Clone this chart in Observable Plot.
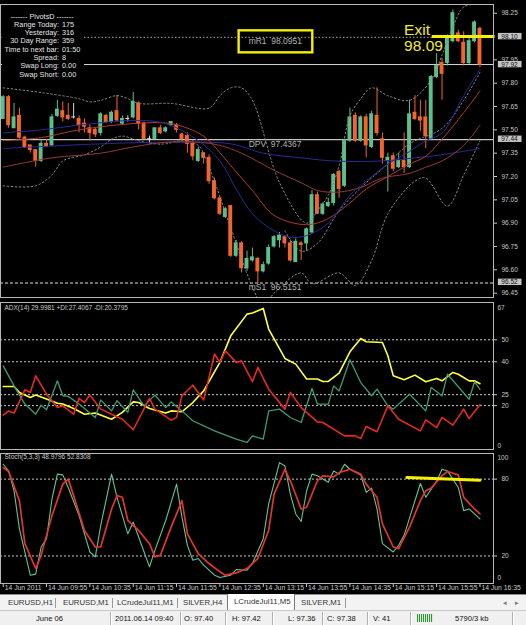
<!DOCTYPE html>
<html><head><meta charset="utf-8">
<script src="https://cdn.jsdelivr.net/npm/d3@7"></script>
<script src="https://cdn.jsdelivr.net/npm/@observablehq/plot@0.6"></script>
<style>
html,body{margin:0;padding:0;background:#fff;}
#wrap{position:relative;width:526px;height:625px;background:#000;overflow:hidden;font-family:"Liberation Sans",Arial,sans-serif;}
#wrap svg{position:absolute;left:0;overflow:visible;}
#info{position:absolute;left:2px;top:9px;width:82px;height:71px;background:#000;color:#e4e4e4;font-size:7.3px;}
.irow{position:absolute;left:0;width:82px;height:9px;line-height:9px;white-space:nowrap;}
.ilab{position:absolute;right:25px;text-align:right;}
.ival{position:absolute;left:60px;}
#tabs{position:absolute;left:0;top:594px;width:526px;height:15px;background:#f3f3f3;border-top:1px solid #8c8c8c;font-size:7.8px;color:#333;}
.tab{position:absolute;top:0;height:15px;line-height:15px;white-space:nowrap;}
.tsep{position:absolute;top:3px;width:1px;height:10px;background:#9a9a9a;}
#status{position:absolute;left:0;top:610px;width:526px;height:15px;background:#f0f0f0;border-top:1px solid #c8c8c8;font-size:7.6px;color:#111;}
.st{position:absolute;top:0;height:15px;line-height:15px;white-space:nowrap;}
.ssep{position:absolute;top:1px;width:1px;height:13px;background:#b0b0b0;border-right:1px solid #fff;}
</style></head>
<body><div id="wrap"></div>
<script>
// ---------------- DATA ----------------
const opens  = [97.57,97.71,97.51,97.59,97.45,97.40,97.37,97.30,97.41,97.40,97.59,97.62,97.59,97.58,97.57,97.54,97.51,97.50,97.48,97.59,97.55,97.62,97.54,97.57,97.58,97.67,97.54,97.44,97.44,97.51,97.49,97.53,97.53,97.47,97.46,97.41,97.30,97.35,97.32,97.17,97.06,96.94,97.01,96.69,96.77,96.61,96.66,96.67,96.59,96.64,96.75,96.79,96.81,96.77,96.65,96.77,96.77,96.84,97.08,96.96,97.01,97.03,97.23,97.14,97.43,97.59,97.43,97.58,97.39,97.59,97.44,97.30,97.33,97.26,97.30,97.26,97.61,97.58,97.58,97.44,97.84,97.93,97.93,98.07,98.12,98.06,97.93,98.07,98.15];
const highs  = [97.72,97.72,97.67,97.64,97.46,97.40,97.37,97.43,97.44,97.60,97.69,97.68,97.67,97.67,97.59,97.57,97.53,97.51,97.61,97.60,97.62,97.72,97.59,97.59,97.74,97.68,97.55,97.46,97.51,97.53,97.52,97.55,97.54,97.48,97.48,97.43,97.39,97.35,97.34,97.19,97.06,97.00,97.01,96.79,96.78,96.72,96.74,96.68,96.65,96.76,96.82,96.84,96.82,96.79,96.80,96.78,96.87,97.11,97.10,97.03,97.06,97.22,97.24,97.44,97.64,97.61,97.59,97.60,97.62,97.77,97.48,97.35,97.35,97.35,97.48,97.69,97.72,97.69,97.69,97.85,97.99,97.96,98.11,98.27,98.14,98.13,98.09,98.20,98.16];
const lows   = [97.57,97.51,97.51,97.44,97.38,97.35,97.26,97.29,97.39,97.39,97.58,97.55,97.56,97.57,97.48,97.48,97.43,97.45,97.46,97.54,97.54,97.55,97.53,97.55,97.57,97.50,97.44,97.41,97.44,97.47,97.48,97.52,97.48,97.43,97.35,97.30,97.29,97.28,97.15,97.05,96.95,96.93,96.68,96.68,96.58,96.59,96.65,96.51,96.58,96.63,96.74,96.74,96.74,96.65,96.65,96.66,96.72,96.83,96.96,96.95,97.00,97.01,97.06,97.13,97.42,97.42,97.42,97.32,97.38,97.46,97.28,97.10,97.23,97.25,97.22,97.25,97.56,97.49,97.38,97.44,97.83,97.69,97.91,98.06,98.06,97.91,97.92,98.06,97.90];
const closes = [97.71,97.53,97.58,97.45,97.39,97.37,97.30,97.41,97.39,97.58,97.63,97.58,97.57,97.58,97.53,97.52,97.48,97.47,97.60,97.55,97.61,97.56,97.57,97.57,97.68,97.54,97.44,97.44,97.51,97.48,97.51,97.55,97.50,97.44,97.41,97.33,97.37,97.32,97.17,97.06,96.96,96.99,96.69,96.77,96.61,96.67,96.68,96.59,96.63,96.74,96.81,96.82,96.77,96.66,96.78,96.76,96.86,97.08,96.96,97.02,97.03,97.21,97.12,97.43,97.58,97.43,97.58,97.40,97.60,97.48,97.32,97.32,97.25,97.30,97.26,97.60,97.57,97.56,97.46,97.84,97.91,97.86,98.09,98.25,98.07,97.93,98.07,98.19,97.92];

const fastNavyBars = [0,7,14,24,30,36,40,43,46,50,53,56,60,64,67,71,75,78,81,85,88];
const fastNavy     = [97.48,97.50,97.53,97.56,97.54,97.43,97.30,97.12,96.96,96.85,96.81,96.82,96.90,97.08,97.17,97.28,97.36,97.43,97.48,97.72,97.89];
const redMaBars    = [0,7,14,24,31,36,38,42,46,50,56,60,64,67,71,75,78,81,85,88];
const redMa        = [97.43,97.45,97.50,97.54,97.54,97.48,97.43,97.27,97.11,96.95,96.89,96.93,97.03,97.12,97.20,97.28,97.33,97.44,97.61,97.75];
const slowRedBars  = [0,9,18,24,30,36,40,44,50,55,58,62,66,70,75,78,81,85,88];
const slowRed      = [97.26,97.32,97.35,97.39,97.42,97.42,97.40,97.35,97.24,97.16,97.11,97.10,97.13,97.19,97.22,97.26,97.30,97.40,97.53];
const slowNavyBars = [0,18,30,42,48,55,61,70,76,81,88];
const slowNavy     = [97.38,97.41,97.42,97.41,97.35,97.32,97.30,97.30,97.32,97.34,97.38];

const bbUpperBars = [0,7,14,16,18,21,23,25,31,38,40,42,44,46,51,56,58,60,62,64,66,68,71,75,79,81,83,85,88];
const bbUpper     = [97.77,97.74,97.70,97.68,97.69,97.72,97.70,97.67,97.67,97.64,97.72,97.77,97.77,97.69,97.16,96.90,96.98,97.08,97.27,97.59,97.70,97.77,97.72,97.69,97.82,97.98,98.16,98.29,98.31];
const bbMidBars   = [52,55,58,62,67,70,75,81,85,88];
const bbMid       = [96.85,96.72,96.77,96.98,97.16,97.25,97.41,97.51,97.69,97.87];
const bbLowerBars = [0,6,9,11,15,18,20,22,25,28,30,33,36,38,42,46,48,50,55,57,62,65,68,71,76,78,82,85,88];
const bbLower     = [97.14,97.14,97.21,97.30,97.34,97.39,97.44,97.46,97.43,97.41,97.41,97.43,97.40,97.26,96.87,96.49,96.37,96.45,96.58,96.51,96.58,96.50,96.66,96.96,97.17,97.19,97.01,97.21,97.43];

const bidPrice = 97.92;
const dpvLevel = 97.4367, mR1Level = 98.0951, mS1Level = 96.5151;
const exitPrice = 98.10, exitLabel = "98.09", exitFromBar = 79.2, labelBar = 45.3, exitTextBar = 74;
const priceTicks = [98.25,97.95,97.80,97.65,97.50,97.35,97.20,97.05,96.90,96.75,96.60,96.45];
const priceBoxes = [98.10,97.92,97.44,96.52];

const adxBars = [0,2,3,5,6,8,10,11,13,15,17,20,22,24,25,27,30,31,33,35,37,40,42,45,46,48,49,52,54,56,58,59,60,62,64,66,67,70,71,72,74,76,78,80,81,83,84,86,87,88];
const adx     = [28.7,28.7,26,23.7,24.8,23,21.1,20.7,18.7,16.1,16.6,13.8,16.9,21.7,21.4,18.7,16.6,17.6,17.2,21.4,26.7,39.7,51.8,61.7,62.2,64.3,54.9,41.5,38.9,32.1,32.1,31,31,34.8,44.5,50.6,49.1,48.8,42.7,33.6,31.8,33.9,30.9,32.4,31.3,35.1,34.3,31.3,31.3,30.0];
const pdiBars = [0,2,4,6,7,8,10,11,12,14,17,18,20,21,23,24,26,28,30,31,33,35,39,43,45,46,48,49,51,53,55,57,58,60,61,62,64,66,68,69,71,72,75,78,79,81,82,86,87,88];
const pdi     = [38.1,29,20.7,16.1,20.2,18.1,31.3,24.5,24.2,20.7,14.6,22.6,17.6,22.2,16.9,27.2,19.9,24.8,19.1,21.7,17.6,13.1,8.5,4.7,3.2,6.2,4.7,17.6,18.4,14.6,12.3,27.8,20.7,20.7,29,26.7,40.9,30.5,24.5,27.5,19.9,18.4,25.2,17.6,28.3,24.5,34.3,22.9,30.9,27.4];
const mdiBars = [0,1,2,4,5,6,8,10,11,13,14,15,16,18,20,22,24,27,28,31,32,33,35,36,37,39,40,41,43,44,46,47,49,52,53,55,58,59,63,65,66,67,69,71,73,77,78,80,81,83,85,86,88];
const mdi     = [15.7,17.6,16.6,27.2,26,33.6,25.2,19.1,19.9,16.1,23.3,21.4,24.8,18.4,16.1,13.8,9,23.3,18.4,13.4,14.6,24.5,29.3,26,22.6,43.5,39.7,45,39.7,40.4,30.9,37.4,27.5,18.4,26,19.1,12.6,12.3,6.2,6.2,5,10.5,8.1,19.9,13.8,8.5,13.5,10,14.6,11.1,18.4,14.1,20.4];
const adxLevels = [50,40,25,20];
const adxMax = 67, adxMin = 0;
const adxTitle = "ADX(14) 29.9981 +DI:27.4067 -DI:20.3795";

const stochKBars = [0,1,2,3,5,6,7,8,9,10,11,12,14,16,17,18,20,21,23,24,25,27,28,30,32,33,34,35,36,37,39,40,42,43,45,46,48,49,51,52,53,54,55,56,57,58,60,61,62,63,64,66,67,68,69,70,72,73,74,77,78,80,81,82,84,85,86,88];
const stochK     = [91.6,86.4,70.9,41,5,5.8,27,33.5,64.5,83.9,83.3,73.5,51.5,23.1,19.3,43.8,83.9,65.8,37.3,46.4,34.8,11.5,24.4,47.7,76.1,50.3,28.3,16.7,18,12.8,5,3.2,5,9.4,8.9,14.1,33.5,60.6,92.9,90.3,68.3,52.8,46.9,70.9,83.9,82.6,77.5,86.4,83.9,91.6,87.7,83.3,69.6,73,56.7,29.6,23.1,28.3,36.1,76.6,65.8,78.4,87.7,86.4,73.5,55.4,56.7,49.0];
const stochDBars = [0,1,3,4,6,7,9,11,12,13,15,17,18,20,21,22,23,25,27,28,29,31,33,34,36,38,40,41,43,45,47,49,50,52,53,55,56,58,59,61,62,64,66,67,69,70,72,73,75,77,78,79,81,82,84,85,87,88];
const stochD     = [89,85.9,63,29.6,10.2,20.5,51.5,76.1,80,67.1,39.9,27,27,56.7,67.1,65.8,47.7,39.9,29.6,19.3,20.5,42.5,63.2,37.3,21.8,14.1,7.6,5,6.8,10.2,18,39.9,68.3,87.7,78.7,56.7,58,78.7,82.6,81.8,85.1,87.7,83.9,76.1,65.8,45.1,27,25.7,42.5,63.2,70.9,73,82.6,85.9,83.3,65.8,56.7,52.8];
const stochLevels = [80,20];
const stochMax = 100, stochMin = 0;
const stochTitle = "Stoch(5,3,3) 48.9796 52.8308";
const stochTrendBars = [74.5,88], stochTrend = [81.3,79.2];

const tickBars = [0,8,16,24,32,40,48,56,64,72,80,88];
const tickLabels = ["14 Jun 2011","14 Jun 09:55","14 Jun 10:35","14 Jun 11:15","14 Jun 11:55","14 Jun 12:35","14 Jun 13:15","14 Jun 13:55","14 Jun 14:35","14 Jun 15:15","14 Jun 15:55","14 Jun 16:35"];

const infoTitle = "-------  PivotsD  -------";
const infoLabels = ["Range  Today:","Yesterday:","30 Day Range:","Time to next bar:","Spread:","Swap  Long:","Swap  Short:"];
const infoValues = ["175","316","359","01:50","8","0.00","0.00"];
const tabNames = ["EURUSD,H1","EURUSD,M1","LCrudeJul11,M1","SILVER,H4","LCrudeJul11,M5","SILVER,M1"];
const activeTab = "LCrudeJul11,M5";
const statusTexts = ["June 06","2011.06.14 09:40","O: 97.40","H: 97.42","L: 97.36","C: 97.38","V: 41","5790/3 kb"];

// ---------------- DRAW ----------------
const GREEN = "#5cc08c", ORANGE = "#f5652a", DOJI = "#d8d8d8";
const NAVY = "#2a2a96", RED1 = "#b03a30", RED2 = "#953a3a";
const pts = (bs, vs) => bs.map((b, k) => ({i: b, v: vs[k]}));
const bars = opens.map((o, i) => ({i, o, h: highs[i], l: lows[i], c: closes[i]}));
const col = d => d.c > d.o ? GREEN : d.c < d.o ? ORANGE : DOJI;
const XD = [-0.5, 90.5];
const baseStyle = {background: "transparent", color: "#c8c8c8", fontFamily: "Liberation Sans, Arial, sans-serif", fontSize: "6.5px", overflow: "visible"};
const wrap = document.getElementById("wrap");

const band = (b, v) => Plot.line(pts(b, v), {x: "i", y: "v", stroke: "#8a8a8a", strokeWidth: 1, strokeDasharray: "1.6,2.4", curve: "catmull-rom", clip: true});
const ma = (b, v, c) => Plot.line(pts(b, v), {x: "i", y: "v", stroke: c, strokeWidth: 1, curve: "catmull-rom", clip: true});

const main = Plot.plot({
  width: 526, height: 300, marginLeft: 0, marginRight: 33, marginTop: 4, marginBottom: 3,
  x: {domain: XD, axis: null}, y: {domain: [96.422, 98.306], axis: null},
  style: baseStyle,
  marks: [
    Plot.ruleY([dpvLevel], {stroke: "#f2f2f2", strokeWidth: 1}),
    Plot.ruleY([bidPrice], {stroke: "#d6d6d6", strokeWidth: 1}),
    Plot.ruleY([mR1Level], {stroke: "#a8a8a8", strokeDasharray: "1.5,2"}),
    Plot.ruleY([mS1Level], {stroke: "#e0e0e0", strokeDasharray: "3,2"}),
    Plot.ruleX(bars, {x: "i", y1: "l", y2: "h", stroke: col, strokeWidth: 1}),
    Plot.rect(bars, {x1: d => d.i - 0.36, x2: d => d.i + 0.36, y1: "o", y2: "c", fill: col, insetTop: -0.5, insetBottom: -0.5}),
    band(bbUpperBars, bbUpper), band(bbMidBars, bbMid), band(bbLowerBars, bbLower),
    ma(slowNavyBars, slowNavy, NAVY),
    ma(slowRedBars, slowRed, RED2),
    ma(redMaBars, redMa, RED1),
    ma(fastNavyBars, fastNavy, NAVY),
    Plot.text([dpvLevel], {x: labelBar, y: d => d, text: d => "DPV  " + d.toFixed(4), textAnchor: "start", lineAnchor: "top", dy: 1, fill: "#b4b4b4", fontSize: 8.5}),
    Plot.text([mR1Level], {x: labelBar, y: d => d, text: d => "mR1  " + d.toFixed(4), textAnchor: "start", lineAnchor: "top", dy: 1, fill: "#b4b4b4", fontSize: 8.5}),
    Plot.text([mS1Level], {x: labelBar, y: d => d, text: d => "mS1  " + d.toFixed(4), textAnchor: "start", lineAnchor: "top", dy: 1, fill: "#b4b4b4", fontSize: 8.5}),
    Plot.ruleY([exitPrice], {x1: exitFromBar, x2: XD[1] + 0.3, stroke: "#f4f000", strokeWidth: 3, clip: false}),
    Plot.text(["Exit"], {x: exitTextBar, y: exitPrice, text: d => d, textAnchor: "start", lineAnchor: "bottom", dy: -2, fill: "#f0ec3c", fontSize: 15.5}),
    Plot.text([exitLabel], {x: exitTextBar, y: exitPrice, text: d => d, textAnchor: "start", lineAnchor: "top", dy: 3.5, fill: "#f0ec3c", fontSize: 15.5}),
    Plot.axisY(priceTicks, {anchor: "right", tickSize: 3, tickPadding: 5, tickFormat: d => d.toFixed(2), label: null, fontSize: 6.5}),
    Plot.text(priceBoxes, {y: d => d, text: d => d.toFixed(2), frameAnchor: "right", dx: 16, textAnchor: "middle", fill: "#111", fontSize: 6.5}),
    Plot.frame({stroke: "#b8b8b8"})
  ]
});
main.style.top = "0px";
wrap.appendChild(main);

const adxPlot = Plot.plot({
  width: 526, height: 154, marginLeft: 0, marginRight: 33, marginTop: 4, marginBottom: 3,
  x: {domain: XD, axis: null}, y: {domain: [adxMin, adxMax], axis: null},
  style: baseStyle,
  marks: [
    Plot.ruleY(adxLevels, {stroke: "#c8c8c8", strokeDasharray: "2,2"}),
    Plot.line(pts(adxBars, adx), {x: "i", y: "v", stroke: "#ffff46", strokeWidth: 1.6}),
    Plot.line(pts(pdiBars, pdi), {x: "i", y: "v", stroke: "#3f9c6c", strokeWidth: 1.3}),
    Plot.line(pts(mdiBars, mdi), {x: "i", y: "v", stroke: "#e42a22", strokeWidth: 1.6}),
    Plot.text([adxTitle], {frameAnchor: "top-left", dx: 4, dy: 3, lineAnchor: "top", textAnchor: "start", fill: "#c8c8c8", fontSize: 6.5}),
    Plot.axisY(adxLevels, {anchor: "right", tickSize: 3, tickPadding: 5, label: null, fontSize: 6.5}),
    Plot.text([adxMax], {y: d => d, text: d => String(d), frameAnchor: "right", dx: 4, dy: 5, textAnchor: "start", fontSize: 6.5, fill: "#c8c8c8"}),
    Plot.text([adxMin], {y: d => d, text: d => String(d), frameAnchor: "right", dx: 4, dy: -4, textAnchor: "start", fontSize: 6.5, fill: "#c8c8c8"}),
    Plot.frame({stroke: "#b8b8b8"})
  ]
});
adxPlot.style.top = "298px";
wrap.appendChild(adxPlot);

const stochPlot = Plot.plot({
  width: 526, height: 146, marginLeft: 0, marginRight: 33, marginTop: 4, marginBottom: 12,
  x: {domain: XD, axis: null}, y: {domain: [stochMin - 1.5, stochMax], axis: null},
  style: baseStyle,
  marks: [
    Plot.ruleY(stochLevels, {stroke: "#c8c8c8", strokeDasharray: "2,2"}),
    Plot.line(pts(stochKBars, stochK), {x: "i", y: "v", stroke: "#62c592", strokeWidth: 1.1}),
    Plot.line(pts(stochDBars, stochD), {x: "i", y: "v", stroke: "#e2362a", strokeWidth: 1.7}),
    Plot.line(pts(stochTrendBars, stochTrend), {x: "i", y: "v", stroke: "#f4f000", strokeWidth: 3}),
    Plot.text([stochTitle], {frameAnchor: "top-left", dx: 4, dy: 1, lineAnchor: "top", textAnchor: "start", fill: "#c8c8c8", fontSize: 6.5}),
    Plot.axisY(stochLevels, {anchor: "right", tickSize: 3, tickPadding: 5, label: null, fontSize: 6.5}),
    Plot.text([stochMax], {y: d => d, text: d => String(d), frameAnchor: "right", dx: 4, dy: 4, textAnchor: "start", fontSize: 6.5, fill: "#c8c8c8"}),
    Plot.text([stochMin], {y: d => d, text: d => String(d), frameAnchor: "right", dx: 4, dy: -4, textAnchor: "start", fontSize: 6.5, fill: "#c8c8c8"}),
    Plot.axisX(tickBars, {anchor: "bottom", tickSize: 4, tickFormat: () => "", label: null}),
    Plot.text(tickBars, {x: d => d, text: d => tickLabels[tickBars.indexOf(d)], frameAnchor: "bottom", lineAnchor: "top", dy: 1.5, dx: 1.5, textAnchor: "start", fill: "#c8c8c8", fontSize: 6.8}),
    Plot.frame({stroke: "#b8b8b8"})
  ]
});
stochPlot.style.top = "449px";
wrap.appendChild(stochPlot);

// boxes behind boxed price labels and around the mR1 label
const NS = "http://www.w3.org/2000/svg";
function boxAround(t, padX, padY, fill, stroke, sw) {
  const b = t.getBBox();
  const r = document.createElementNS(NS, "rect");
  r.setAttribute("x", b.x - padX); r.setAttribute("y", b.y - padY);
  r.setAttribute("width", b.width + 2 * padX); r.setAttribute("height", b.height + 2 * padY);
  const tr = t.getAttribute("transform"); if (tr) r.setAttribute("transform", tr);
  r.setAttribute("fill", fill); r.setAttribute("stroke", stroke || "none");
  if (sw) r.setAttribute("stroke-width", sw);
  t.parentNode.insertBefore(r, t);
}
const boxTexts = new Set(priceBoxes.map(d => d.toFixed(2)));
main.querySelectorAll("text").forEach(t => {
  const s = t.textContent.trim();
  if (boxTexts.has(s)) boxAround(t, 3.5, -0.3, "#c4c4c4");
  if (s.startsWith("mR1")) boxAround(t, 10, 6, "none", "#f4f000", 2.4);
});

// info block
const info = document.createElement("div"); info.id = "info";
const mk = (cls, txt, css) => { const e = document.createElement("div"); e.className = cls; if (txt != null) e.textContent = txt; if (css) e.style.cssText = css; return e; };
info.appendChild(mk("irow", infoTitle, "top:2.5px;text-align:center;width:80px;"));
infoLabels.forEach((l, k) => {
  const row = mk("irow", null, `top:${(10.8 + k * 8.3).toFixed(1)}px;`);
  row.appendChild(mk("ilab", l)); row.appendChild(mk("ival", infoValues[k]));
  info.appendChild(row);
});
wrap.appendChild(info);

// tabs bar
const tabs = document.createElement("div"); tabs.id = "tabs";
const tabLeft = [8, 63, 117, 183, 227, 301];
const sepLeft = [55, 112, 177, 345];
tabNames.forEach((n, k) => {
  const e = mk("tab", n, `left:${tabLeft[k]}px;`);
  if (n === activeTab) e.style.cssText += "background:#fff;border:1px solid #7a7a7a;border-top:none;padding:0 6px;top:-1px;height:16px;line-height:16px;width:54px;";
  tabs.appendChild(e);
});
sepLeft.forEach(x => tabs.appendChild(mk("tsep", null, `left:${x}px;`)));
tabs.appendChild(mk("tab", "◂", "left:503px;color:#777;font-size:7px;"));
tabs.appendChild(mk("tab", "▸", "left:515px;color:#777;font-size:7px;"));
wrap.appendChild(tabs);

// status bar
const st = document.createElement("div"); st.id = "status";
const stLeft = [36, 115, 184, 232, 288, 327, 373, 455];
const stSep = [110, 180, 225, 272, 322, 367, 410, 512];
statusTexts.forEach((s, k) => st.appendChild(mk("st", s, `left:${stLeft[k]}px;`)));
stSep.forEach(x => st.appendChild(mk("ssep", null, `left:${x}px;`)));
st.appendChild(mk("st", null, "left:417px;top:3px;width:16px;height:8px;background:repeating-linear-gradient(90deg,#2f8f3f 0 1px,#d8f0d0 1px 2px);"));
wrap.appendChild(st);
</script>
</body></html>
